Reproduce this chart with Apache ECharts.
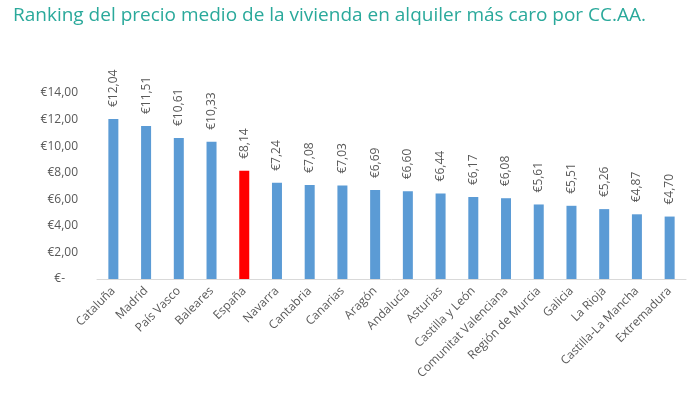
<!DOCTYPE html>
<html><head><meta charset="utf-8">
<script src="https://cdn.jsdelivr.net/npm/echarts@6/dist/echarts.min.js"></script>
<style>html,body{margin:0;padding:0;background:#fff}#c{width:696px;height:394px}</style>
</head><body><div id="c"></div>
<script>
const categories = ["Cataluña","Madrid","País Vasco","Baleares","España","Navarra","Cantabria","Canarias","Aragón","Andalucía","Asturias","Castilla y León","Comunitat Valenciana","Región de Murcia","Galicia","La Rioja","Castilla-La Mancha","Extremadura"];
const values = [12.04,11.51,10.61,10.33,8.14,7.24,7.08,7.03,6.69,6.60,6.44,6.17,6.08,5.61,5.51,5.26,4.87,4.70];
const highlight = "España";
const chart = echarts.init(document.getElementById('c'));
const fmt = v => v === 0 ? '€-' : '€' + v.toFixed(2).replace('.', ',');
chart.setOption({
  animation:false,
  textStyle:{fontFamily:'Open Sans'},
  title:{text:'Ranking del precio medio de la vivienda en alquiler más caro por CC.AA.',left:8,top:1,
    textStyle:{color:'#2aa99b',fontSize:19,fontWeight:'normal',fontFamily:'Open Sans'}},
  grid:{left:97,right:10,top:93,bottom:115},
  xAxis:{type:'category',data:categories,
    axisLine:{lineStyle:{color:'#d9d9d9'}},axisTick:{show:false},
    axisLabel:{rotate:45,color:'#595959',fontSize:12,interval:0,margin:10}},
  yAxis:{type:'value',min:0,max:14,interval:2,splitLine:{show:false},
    axisLabel:{color:'#595959',fontSize:12,margin:19,
      formatter:v => v === 0 ? '{z|€-}' : fmt(v),
      rich:{z:{color:'#595959',fontSize:12,padding:[0,13,0,0]}}}},
  series:[{type:'bar',barWidth:10,
    data:values.map((v,i)=>({value:v,itemStyle:{color:categories[i]===highlight?'#ff0000':'#5b9bd5'}})),
    label:{show:true,position:'top',rotate:90,align:'left',verticalAlign:'middle',distance:12,
      color:'#595959',fontSize:12,formatter:p=>fmt(p.value)}}]
});
</script></body></html>
